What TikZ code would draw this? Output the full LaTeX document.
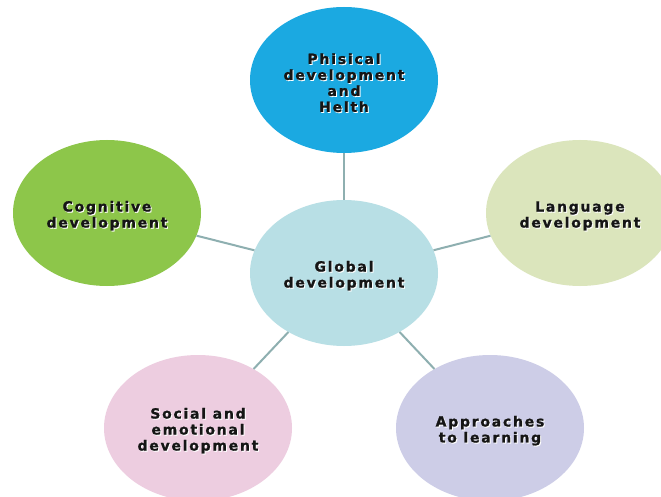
\documentclass[tikz,border=0pt]{standalone}
\usepackage{fontspec}
\newfontfamily\lblfont{DejaVu Sans Bold}[LetterSpace=12.5,FakeBold=1.2]
\usetikzlibrary{shapes.geometric}
\definecolor{cblue}{HTML}{1BA9E1}
\definecolor{cglobal}{HTML}{B8DFE5}
\definecolor{clang}{HTML}{DBE5BC}
\definecolor{ccog}{HTML}{8DC64A}
\definecolor{csoc}{HTML}{EDCDE0}
\definecolor{capp}{HTML}{CDCDE7}
\definecolor{cline}{HTML}{8EAFB0}
\definecolor{ctext}{HTML}{151515}
\newcommand\sh[1]{\leavevmode\rlap{\kern1pt\raisebox{-1pt}{\color{white}#1}}#1}
\newcommand\shf[1]{\rule{0pt}{17pt}\sh{#1}}
\tikzset{
  bubble/.style={ellipse, minimum width=188pt, minimum height=146pt, inner sep=0pt,
    align=center, text=ctext, font=\lblfont\fontsize{14}{16}\selectfont},
  link/.style={draw=cline, line width=2pt}
}
\begin{document}
\begin{tikzpicture}[x=1pt,y=-1pt]
\useasboundingbox[fill=white] (0,0) rectangle (661,497);
\node[bubble, fill=cglobal] (g) at (344,273) {\shf{Global}\\\sh{development}};
\node[bubble, fill=cblue] (p) at (344,80) {\shf{Phisical}\\\sh{development}\\\sh{and}\\\sh{Helth}};
\node[bubble, fill=clang] (l) at (580,213) {\shf{Language}\\\sh{development}};
\node[bubble, fill=ccog] (c) at (107,213) {\shf{Cognitive}\\\sh{development}};
\node[bubble, fill=csoc] (s) at (198,428) {\shf{Social and}\\\sh{emotional}\\\sh{development}};
\node[bubble, fill=capp] (a) at (490,428) {\shf{Approaches}\\\sh{to learning}};
\draw[link] (g) -- (p);
\draw[link] (g) -- (l);
\draw[link] (g) -- (c);
\draw[link] (g) -- (s);
\draw[link] (g) -- (a);
\end{tikzpicture}
\end{document}
